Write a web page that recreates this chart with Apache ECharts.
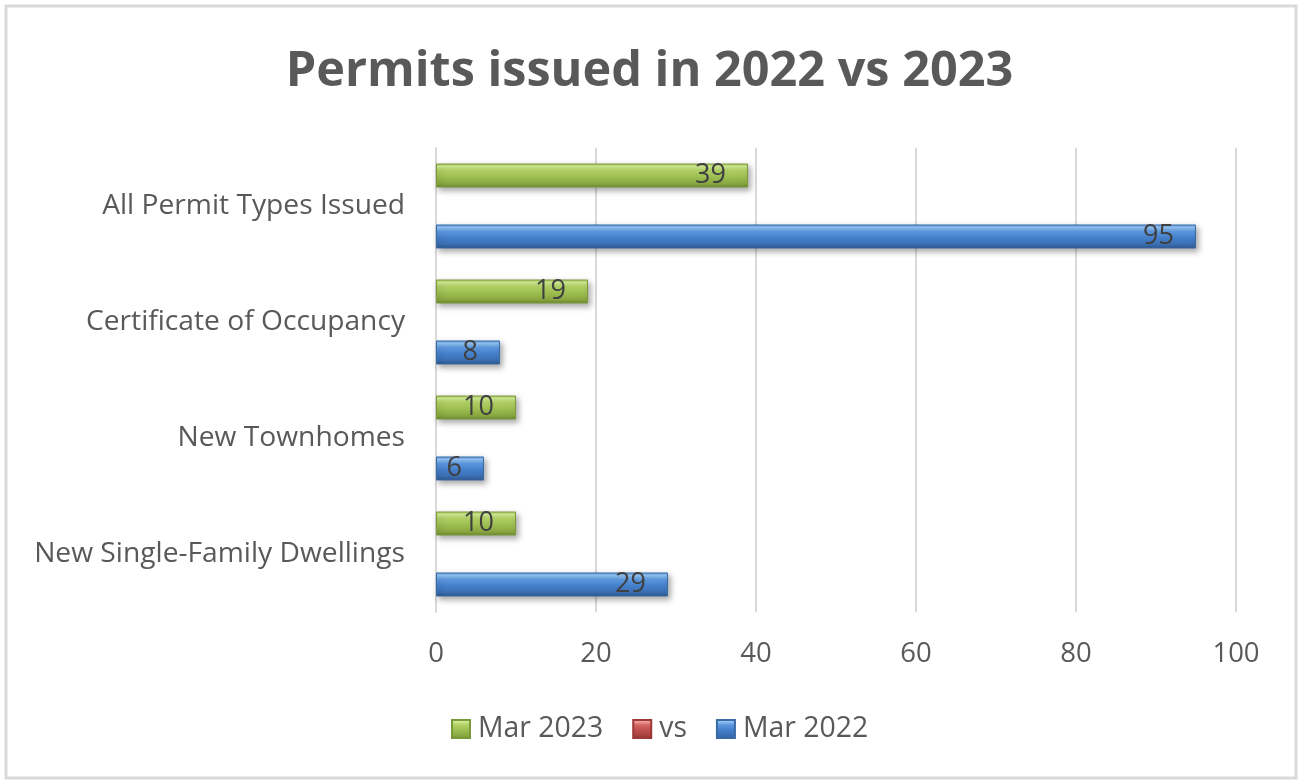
<!DOCTYPE html>
<html>
<head>
<meta charset="utf-8">
<script src="https://cdn.jsdelivr.net/npm/echarts@6/dist/echarts.min.js"></script>
<style>html,body{margin:0;padding:0;background:#fff}#c{width:1299px;height:780px}</style>
</head>
<body>
<div id="c"></div>
<script>
var categories = ['New Single-Family Dwellings', 'New Townhomes', 'Certificate of Occupancy', 'All Permit Types Issued'];
var mar2023 = [10, 10, 19, 39];
var vsValues = [null, null, null, null];
var mar2022 = [29, 6, 8, 95];
var xTicks = [0, 20, 40, 60, 80, 100];

var FONT = 'Open Sans';
function grad(c) {
  return new echarts.graphic.LinearGradient(0, 0, 0, 1, [
    {offset: 0, color: c[0]}, {offset: 0.12, color: c[1]}, {offset: 0.3, color: c[2]},
    {offset: 0.55, color: c[3]}, {offset: 0.85, color: c[4]}, {offset: 1, color: c[5]}
  ]);
}
var greenFill = grad(['#a9cc5c', '#d0eb94', '#b1d164', '#9dbf52', '#88a640', '#6b8530']);
var redFill = grad(['#cf6360', '#f0a09e', '#d46562', '#c0504d', '#a3403d', '#7e2c2a']);
var blueFill = grad(['#5d97e0', '#94c4f4', '#5c98df', '#4580cc', '#3a6db0', '#2b5288']);

function barSeries(name, data, fill, border) {
  return {
    name: name, type: 'bar', data: data, barWidth: 24, barGap: '27%',
    itemStyle: {color: fill, borderColor: border, borderWidth: 1,
      shadowColor: 'rgba(0,0,0,0.35)', shadowBlur: 6, shadowOffsetX: 2, shadowOffsetY: 3},
    label: {show: true, position: 'insideRight', distance: 22, color: '#404040',
      fontFamily: FONT, fontSize: 27},
    emphasis: {disabled: true}
  };
}

var chart = echarts.init(document.getElementById('c'), null, {renderer: 'canvas'});
chart.setOption({
  animation: false,
  backgroundColor: '#ffffff',
  title: {text: 'Permits issued in 2022 vs 2023', left: 'center', top: 43,
    textStyle: {fontFamily: FONT, fontWeight: 'bold', fontSize: 48.6, color: '#595959'}},
  graphic: [{type: 'rect', shape: {x: 6, y: 6, width: 1290, height: 772},
    style: {fill: 'none', stroke: '#d9d9d9', lineWidth: 3}, silent: true}],
  legend: {bottom: 32, left: 446, itemWidth: 18, itemHeight: 18, itemGap: 29,
    icon: 'rect', data: ['Mar 2023', 'vs', 'Mar 2022'],
    textStyle: {fontFamily: FONT, fontSize: 28.4, color: '#595959', padding: [0, 0, 0, 3]}},
  grid: {left: 436, right: 63, top: 148, bottom: 168, containLabel: false},
  xAxis: {type: 'value', min: xTicks[0], max: xTicks[xTicks.length - 1], interval: 20,
    axisLine: {show: false}, axisTick: {show: false},
    splitLine: {lineStyle: {color: '#d9d9d9', width: 2}},
    axisLabel: {fontFamily: FONT, fontSize: 27.5, color: '#595959', margin: 28}},
  yAxis: {type: 'category', data: categories,
    axisLine: {show: true, lineStyle: {color: '#d9d9d9', width: 2}}, axisTick: {show: false},
    axisLabel: {fontFamily: FONT, fontSize: 28.2, color: '#595959', margin: 31}},
  series: [
    barSeries('Mar 2023', mar2023, greenFill, '#7a9a3a'),
    barSeries('vs', vsValues, redFill, '#9c3936'),
    barSeries('Mar 2022', mar2022, blueFill, '#3a6aa5')
  ]
});
</script>
</body>
</html>
